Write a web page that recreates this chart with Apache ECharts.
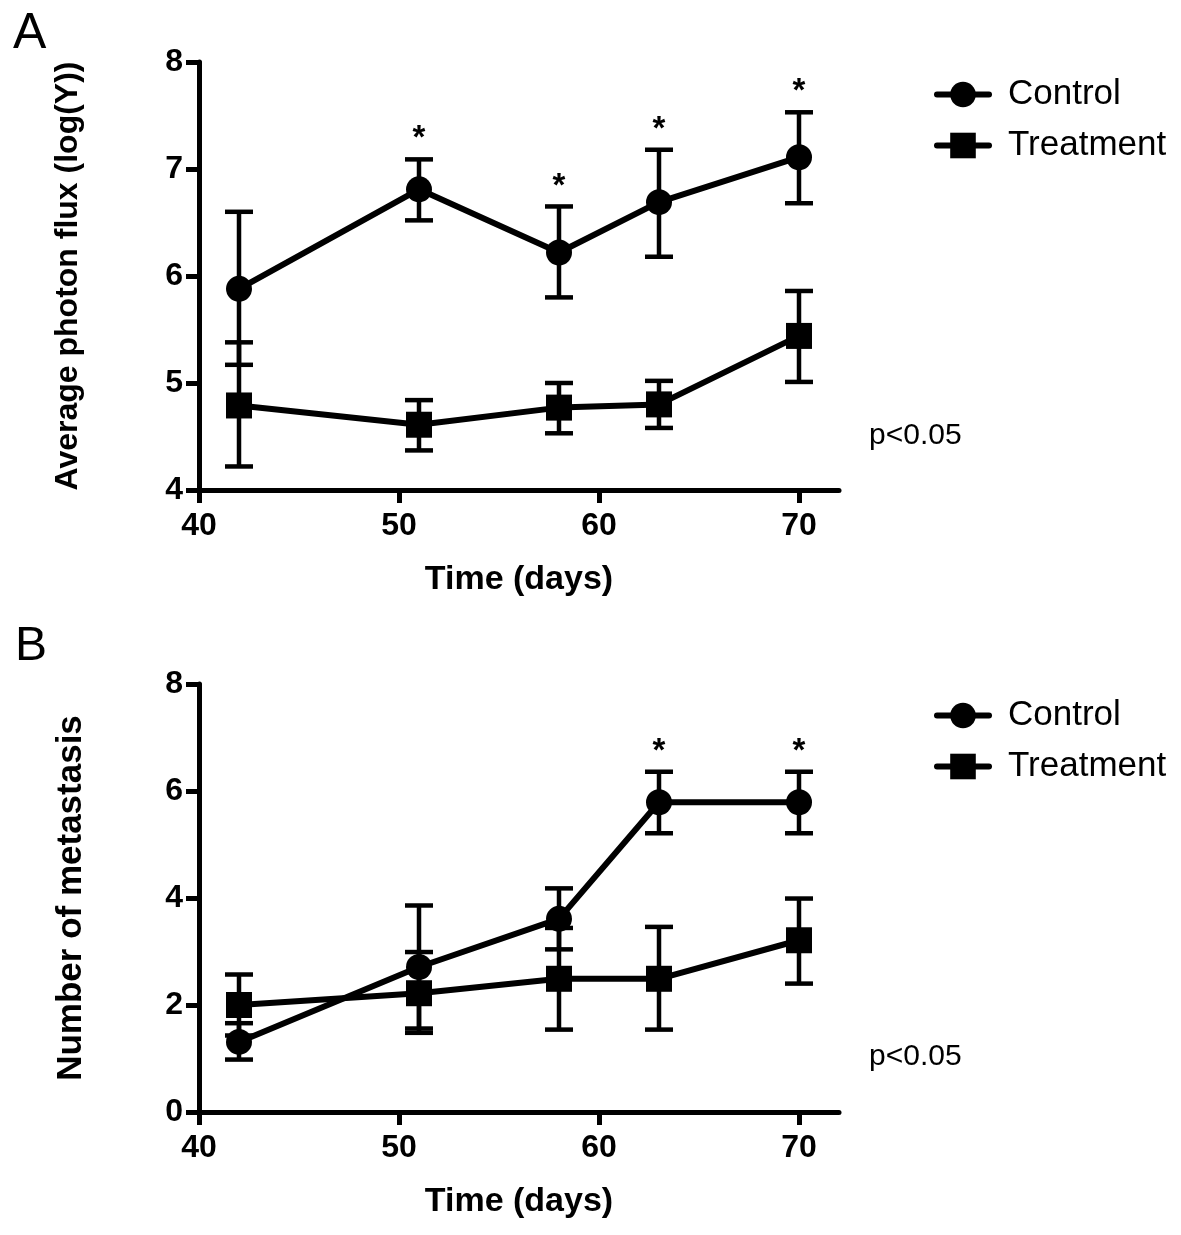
<!DOCTYPE html>
<html>
<head>
<meta charset="utf-8">
<script src="https://cdn.jsdelivr.net/npm/echarts@6/dist/echarts.min.js"></script>
<style>
html,body{margin:0;padding:0;background:#fff;}
#chart{width:1181px;height:1235px;}
</style>
</head>
<body>
<div id="chart"></div>
<script>
// ---- data ----
const days = [42, 51, 58, 63, 70];
const xTicks = [40, 50, 60, 70];
const yTicksA = [4, 5, 6, 7, 8];
const yTicksB = [0, 2, 4, 6, 8];

const ctrlA    = [5.88, 6.81, 6.22, 6.69, 7.11];
const ctrlA_hi = [6.60, 7.09, 6.65, 7.18, 7.53];
const ctrlA_lo = [5.17, 6.52, 5.80, 6.18, 6.68];
const trtA     = [4.79, 4.61, 4.77, 4.80, 5.44];
const trtA_hi  = [5.38, 4.84, 5.00, 5.02, 5.86];
const trtA_lo  = [4.22, 4.37, 4.53, 4.58, 5.01];

const ctrlB    = [1.31, 2.71, 3.61, 5.79, 5.79];
const ctrlB_hi = [1.66, 3.86, 4.18, 6.36, 6.36];
const ctrlB_lo = [0.98, 1.56, 3.04, 5.21, 5.21];
const trtB     = [2.00, 2.22, 2.49, 2.49, 3.21];
const trtB_hi  = [2.57, 2.99, 3.44, 3.46, 3.99];
const trtB_lo  = [1.43, 1.48, 1.54, 1.54, 2.40];

const sigA = [false, true, true, true, true];
const sigB = [false, false, false, true, true];

const seriesNames = ['Control', 'Treatment'];
const yTitleA = 'Average photon flux (log(Y))';
const yTitleB = 'Number of metastasis';
const xTitle = 'Time (days)';
const pText = 'p<0.05';

// ---- helpers ----
const FONT = 'Liberation Sans, Arial, sans-serif';
const pts = (xs, ys) => xs.map((x, i) => [x, ys[i]]);
const errData = (xs, lo, hi) => xs.map((x, i) => [x, lo[i], hi[i]]);
const sigData = (xs, hi, flags) => xs.map((x, i) => [x, hi[i]]).filter((d, i) => flags[i]);

function errorBar(params, api) {
  const x = api.value(0);
  const lo = api.coord([x, api.value(1)]);
  const hi = api.coord([x, api.value(2)]);
  const hw = 14;
  const st = { stroke: '#000', lineWidth: 4.5 };
  return {
    type: 'group',
    children: [
      { type: 'line', shape: { x1: lo[0], y1: lo[1], x2: hi[0], y2: hi[1] }, style: st },
      { type: 'line', shape: { x1: hi[0] - hw, y1: hi[1], x2: hi[0] + hw, y2: hi[1] }, style: st },
      { type: 'line', shape: { x1: lo[0] - hw, y1: lo[1], x2: lo[0] + hw, y2: lo[1] }, style: st }
    ]
  };
}
function star(params, api) {
  const p = api.coord([api.value(0), api.value(1)]);
  return {
    type: 'text',
    style: { text: '*', x: p[0], y: p[1] - 20, fill: '#000', font: 'bold 33px ' + FONT, align: 'center', verticalAlign: 'middle' }
  };
}

function xAxisCfg(gi) {
  return {
    gridIndex: gi, type: 'value', min: 40, max: 72, interval: 10,
    name: xTitle, nameLocation: 'middle', nameGap: 73,
    nameTextStyle: { fontSize: 34, fontWeight: 'bold', color: '#000', fontFamily: FONT },
    axisLine: { show: true, onZero: false, lineStyle: { color: '#000', width: 5 } },
    axisTick: { show: true, length: 13, lineStyle: { color: '#000', width: 5 }, customValues: xTicks },
    axisLabel: { fontSize: 32, fontWeight: 'bold', color: '#000', fontFamily: FONT, margin: 20, customValues: xTicks },
    splitLine: { show: false }
  };
}
function yAxisCfg(gi, min, max, interval, ticks, title, gap, titleSize) {
  return {
    gridIndex: gi, type: 'value', min: min, max: max, interval: interval,
    name: title, nameLocation: 'middle', nameGap: gap,
    nameTextStyle: { fontSize: titleSize, fontWeight: 'bold', color: '#000', fontFamily: FONT },
    axisLine: { show: true, onZero: false, lineStyle: { color: '#000', width: 5 } },
    axisTick: { show: true, length: 13, lineStyle: { color: '#000', width: 5 }, customValues: ticks },
    axisLabel: { fontSize: 32, fontWeight: 'bold', color: '#000', fontFamily: FONT, margin: 16, customValues: ticks },
    splitLine: { show: false }
  };
}
function lineSeries(name, gi, data, symbol) {
  return {
    name: name, type: 'line', xAxisIndex: gi, yAxisIndex: gi, data: data,
    symbol: symbol, symbolSize: 26, showSymbol: true,
    lineStyle: { color: '#000', width: 6 },
    itemStyle: { color: '#000', borderWidth: 0 },
    z: 5, animation: false, silent: true
  };
}
function errSeries(gi, data) {
  return { type: 'custom', xAxisIndex: gi, yAxisIndex: gi, data: data, renderItem: errorBar, z: 4, animation: false, silent: true, clip: false };
}
function sigSeries(gi, data) {
  return { type: 'custom', xAxisIndex: gi, yAxisIndex: gi, data: data, renderItem: star, z: 6, animation: false, silent: true, clip: false };
}
function legendCfg(top) {
  return {
    data: seriesNames, orient: 'vertical', left: 934, top: top, padding: 0,
    itemWidth: 52, itemHeight: 32, itemGap: 16, selectedMode: false,
    lineStyle: { width: 6, cap: 'round' },
    textStyle: { fontSize: 35, color: '#000', fontFamily: FONT, lineHeight: 32, padding: [0, 0, 0, 14] }
  };
}

const chart = echarts.init(document.getElementById('chart'), null, { renderer: 'canvas' });
chart.setOption({
  backgroundColor: '#fff',
  animation: false,
  grid: [
    { left: 199, top: 62, width: 640, height: 428 },
    { left: 199, top: 684, width: 640, height: 428 }
  ],
  xAxis: [xAxisCfg(0), xAxisCfg(1)],
  yAxis: [
    yAxisCfg(0, 4, 8, 1, yTicksA, yTitleA, 115, 32),
    yAxisCfg(1, 0, 8, 2, yTicksB, yTitleB, 110, 35)
  ],
  legend: [legendCfg(77), legendCfg(698)],
  title: [
    { text: 'A', left: 8, top: 4, textStyle: { fontSize: 50, fontWeight: 'normal', color: '#000', fontFamily: FONT } },
    { text: 'B', left: 10, top: 618, textStyle: { fontSize: 48, fontWeight: 'normal', color: '#000', fontFamily: FONT } },
    { text: pText, left: 864, top: 416, textStyle: { fontSize: 30, fontWeight: 'normal', color: '#000', fontFamily: FONT } },
    { text: pText, left: 864, top: 1037, textStyle: { fontSize: 30, fontWeight: 'normal', color: '#000', fontFamily: FONT } }
  ],
  series: [
    errSeries(0, errData(days, ctrlA_lo, ctrlA_hi)),
    errSeries(0, errData(days, trtA_lo, trtA_hi)),
    lineSeries('Control', 0, pts(days, ctrlA), 'circle'),
    lineSeries('Treatment', 0, pts(days, trtA), 'rect'),
    sigSeries(0, sigData(days, ctrlA_hi, sigA)),
    errSeries(1, errData(days, ctrlB_lo, ctrlB_hi)),
    errSeries(1, errData(days, trtB_lo, trtB_hi)),
    lineSeries('Control', 1, pts(days, ctrlB), 'circle'),
    lineSeries('Treatment', 1, pts(days, trtB), 'rect'),
    sigSeries(1, sigData(days, ctrlB_hi, sigB))
  ]
});
</script>
</body>
</html>
